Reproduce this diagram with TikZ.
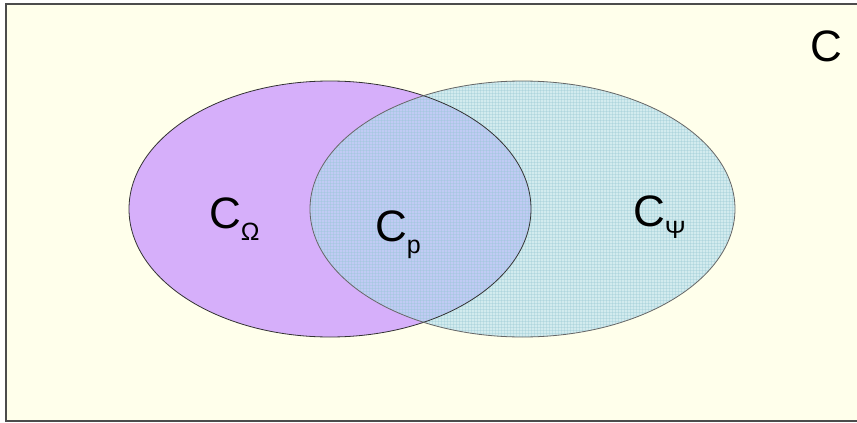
\documentclass[tikz,border=0pt]{standalone}
\usepackage{fontspec}
\setmainfont{Liberation Sans}
\usetikzlibrary{patterns}

\definecolor{paper}{RGB}{255,255,235}
\definecolor{lilac}{RGB}{214,175,250}
\definecolor{aqua}{RGB}{180,222,240}
\definecolor{gridline}{RGB}{150,200,210}

\newcommand{\setlab}[2]{C\raisebox{-0.28em}{\fontsize{25}{25}\selectfont #2}}

\begin{document}
\begin{tikzpicture}[x=1pt,y=-1pt,
    setname/.style={font=\fontsize{44}{48}\selectfont, inner sep=0pt}]
    \useasboundingbox (0,0) rectangle (857,423);
    \fill[paper] (6,4) rectangle (870,421);
    \draw[line width=1.2pt, black!70] (6,4) rectangle (870,421);

    \coordinate (Oo) at (330,209);
    \coordinate (Op) at (522.5,209);
    \fill[lilac] (Oo) ellipse [x radius=201, y radius=128];
    \fill[aqua, opacity=0.6] (Op) ellipse [x radius=212.5, y radius=128];
    \fill[pattern=grid, pattern color=gridline, opacity=0.35] (Op) ellipse [x radius=212.5, y radius=128];
    \draw[black!80, line width=0.8pt] (Oo) ellipse [x radius=201, y radius=128];
    \draw[black!60, line width=0.8pt] (Op) ellipse [x radius=212.5, y radius=128];

    \node[setname] (all) at (826,46) {C};
    \node[setname, anchor=base west] (omega) at (209,228) {\setlab{C}{Ω}};
    \node[setname, anchor=base west] (core) at (375,241) {\setlab{C}{p}};
    \node[setname, anchor=base west] (psi) at (633,226) {\setlab{C}{Ψ}};
\end{tikzpicture}
\end{document}
